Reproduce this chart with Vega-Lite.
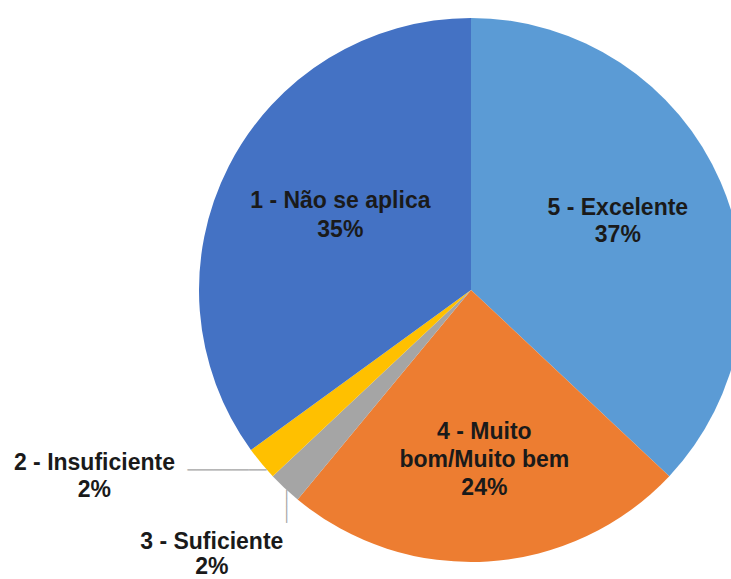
{
  "$schema": "https://vega.github.io/schema/vega-lite/v6.json",
  "width": 544,
  "height": 544,
  "autosize": {"type": "none"},
  "padding": {"left": 199, "top": 18, "right": 0, "bottom": 17},
  "background": "white",
  "view": {"stroke": null},
  "data": {
    "values": [
      {"cat": "5 - Excelente", "pct": 37, "ord": 1, "label": "5 - Excelente\n37%"},
      {"cat": "4 - Muito bom/Muito bem", "pct": 24, "ord": 2, "label": "4 - Muito\nbom/Muito bem\n24%"},
      {"cat": "3 - Suficiente", "pct": 2, "ord": 3, "label": "3 - Suficiente\n2%"},
      {"cat": "2 - Insuficiente", "pct": 2, "ord": 4, "label": "2 - Insuficiente\n2%"},
      {"cat": "1 - Não se aplica", "pct": 35, "ord": 5, "label": "1 - Não se aplica\n35%"}
    ]
  },
  "encoding": {
    "theta": {"field": "pct", "type": "quantitative", "stack": true},
    "order": {"field": "ord", "type": "quantitative"},
    "detail": {"field": "cat", "type": "nominal"}
  },
  "layer": [
    {
      "mark": {"type": "arc"},
      "encoding": {
        "color": {
          "field": "cat", "type": "nominal", "legend": null,
          "scale": {
            "domain": ["5 - Excelente", "4 - Muito bom/Muito bem", "3 - Suficiente", "2 - Insuficiente", "1 - Não se aplica"],
            "range": ["#5B9BD5", "#ED7D31", "#A5A5A5", "#FFC000", "#4472C4"]
          }
        }
      }
    },
    {
      "mark": {"type": "text", "radius": 160, "dy": -18.5, "font": "Liberation Sans", "fontWeight": "bold", "fontSize": 23, "lineHeight": 27, "lineBreak": "\n", "color": "#1a1a1a", "align": "center", "baseline": "middle"},
      "encoding": {"text": {"condition": {"test": "datum.cat === '5 - Excelente'", "field": "label"}, "value": ""}}
    },
    {
      "mark": {"type": "text", "radius": 165, "dx": 3, "dy": -23, "font": "Liberation Sans", "fontWeight": "bold", "fontSize": 23, "lineHeight": 28, "lineBreak": "\n", "color": "#1a1a1a", "align": "center", "baseline": "middle"},
      "encoding": {"text": {"condition": {"test": "datum.cat === '4 - Muito bom/Muito bem'", "field": "label"}, "value": ""}}
    },
    {
      "mark": {"type": "text", "radius": 150, "dx": 3, "dy": -21, "font": "Liberation Sans", "fontWeight": "bold", "fontSize": 23, "lineHeight": 29, "lineBreak": "\n", "color": "#1a1a1a", "align": "center", "baseline": "middle"},
      "encoding": {"text": {"condition": {"test": "datum.cat === '1 - Não se aplica'", "field": "label"}, "value": ""}}
    },
    {
      "mark": {"type": "text", "radius": 272, "dx": -167, "dy": 0, "font": "Liberation Sans", "fontWeight": "bold", "fontSize": 23, "lineHeight": 27, "lineBreak": "\n", "color": "#1a1a1a", "align": "center", "baseline": "middle"},
      "encoding": {"text": {"condition": {"test": "datum.cat === '2 - Insuficiente'", "field": "label"}, "value": ""}}
    },
    {
      "mark": {"type": "text", "radius": 272, "dx": -73, "dy": 53.5, "font": "Liberation Sans", "fontWeight": "bold", "fontSize": 23, "lineHeight": 25, "lineBreak": "\n", "color": "#1a1a1a", "align": "center", "baseline": "middle"},
      "encoding": {"text": {"condition": {"test": "datum.cat === '3 - Suficiente'", "field": "label"}, "value": ""}}
    },
    {
      "mark": {"type": "text", "radius": 272, "dx": -34.5, "dy": 8, "font": "DejaVu Sans Mono", "fontSize": 14.6, "color": "#a6a6a6", "align": "center", "baseline": "middle"},
      "encoding": {"text": {"condition": {"test": "datum.cat === '2 - Insuficiente'", "value": "─────────"}, "value": ""}}
    },
    {
      "mark": {"type": "text", "radius": 272, "angle": 90, "dx": 18, "dy": -1, "font": "DejaVu Sans Mono", "fontSize": 13.7, "color": "#a6a6a6", "align": "center", "baseline": "middle"},
      "encoding": {"text": {"condition": {"test": "datum.cat === '3 - Suficiente'", "value": "────"}, "value": ""}}
    }
  ]
}
